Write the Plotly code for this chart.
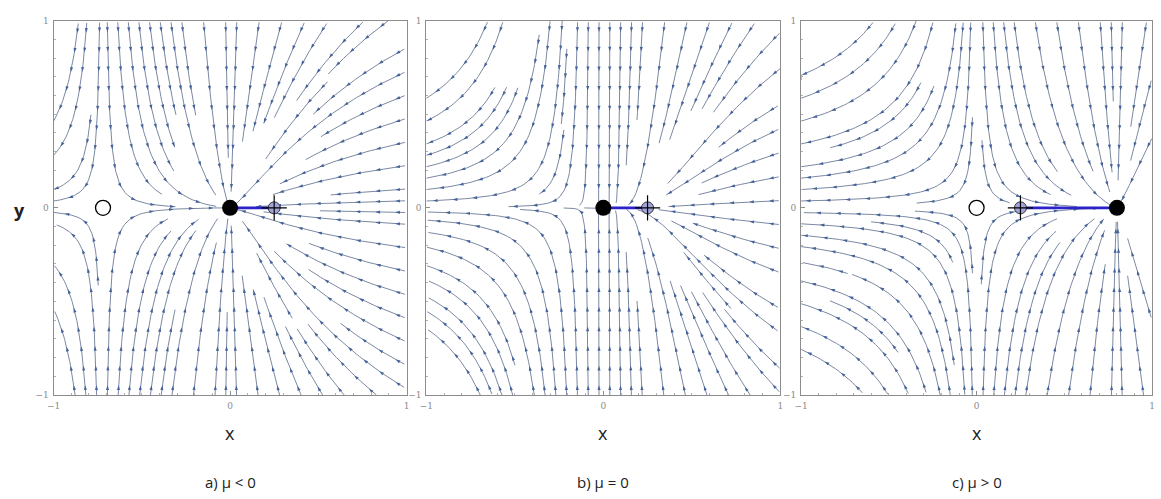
import numpy as np
import plotly.graph_objects as go
import plotly.figure_factory as ff

# Phase portraits of  x' = mu*x - x^2 ,  y' = -y  for three values of mu
mu_values = [-0.72, 0.0, 0.8]
captions = ["a) μ < 0", "b) μ = 0", "c) μ > 0"]
stable_pts = [[0.0], [0.0], [0.8]]        # filled markers
unstable_pts = [[-0.72], [], [0.0]]       # open markers
start_x = [0.25, 0.25, 0.25]              # initial condition on y = 0
tick_vals = [-1, 0, 1]
tick_text = ["−1", "0", "1"]

W, H = 1161, 499
x_domains = [(47, 403), (423, 780), (801, 1155)]
y_top, y_bot = 16, 398

LINE_COL = "#7b89a2"
ARROW_COL = "#45639a"

fig = go.Figure()

grid = np.linspace(-1, 1, 161)
GX, GY = np.meshgrid(grid, grid)


def field(mu, x, y):
    return mu * x - x ** 2, -y


for i, mu in enumerate(mu_values):
    xa = "x" if i == 0 else f"x{i + 1}"
    ya = "y" if i == 0 else f"y{i + 1}"
    U, V = field(mu, GX, GY)
    sf = ff.create_streamline(grid, grid, U, V, density=1.15, arrow_scale=0.001)
    raw_x = [None if (a is None or not np.isfinite(a)) else float(a) for a in sf.data[0].x]
    raw_y = [None if (b is None or not np.isfinite(b)) else float(b) for b in sf.data[0].y]

    # split streamlines into separate paths (also break at any long jump)
    paths = []
    seg_x, seg_y = [], []
    for a, b in zip(raw_x + [None], raw_y + [None]):
        if a is not None and b is not None and seg_x:
            if np.hypot(a - seg_x[-1], b - seg_y[-1]) > 0.06:
                if len(seg_x) > 1:
                    paths.append((np.array(seg_x), np.array(seg_y)))
                seg_x, seg_y = [], []
        if a is None or b is None:
            if len(seg_x) > 1:
                paths.append((np.array(seg_x), np.array(seg_y)))
            seg_x, seg_y = [], []
        else:
            seg_x.append(a)
            seg_y.append(b)

    sx, sy = [], []
    for px, py in paths:
        sx.extend(px.tolist() + [None])
        sy.extend(py.tolist() + [None])
    fig.add_trace(go.Scatter(x=sx, y=sy, mode="lines", xaxis=xa, yaxis=ya,
                             line=dict(color=LINE_COL, width=1),
                             hoverinfo="skip", showlegend=False))

    # arrowheads spaced evenly along every streamline
    px_w = (x_domains[i][1] - x_domains[i][0]) / 2.0
    px_h = (y_bot - y_top) / 2.0
    ax_, ay_ = [], []
    step = 20.0
    for px, py in paths:
        d = np.hypot(np.diff(px) * px_w, np.diff(py) * px_h)
        s = np.concatenate([[0], np.cumsum(d)])
        if not np.isfinite(s[-1]) or s[-1] < step * 0.6:
            continue
        targets = np.arange(step * 0.5, s[-1], step)
        ax_.extend(np.interp(targets, s, px))
        ay_.extend(np.interp(targets, s, py))
    ax_ = np.array(ax_)
    ay_ = np.array(ay_)
    u, v = field(mu, ax_, ay_)
    ang = np.degrees(np.arctan2(u * px_w, v * px_h))
    fig.add_trace(go.Scatter(x=ax_, y=ay_, mode="markers", xaxis=xa, yaxis=ya,
                             marker=dict(symbol="arrow", size=5, angle=ang,
                                         color=ARROW_COL, line=dict(width=0)),
                             hoverinfo="skip", showlegend=False))

    # trajectory from the initial condition to the attracting point
    fig.add_trace(go.Scatter(x=[start_x[i], stable_pts[i][0]], y=[0, 0],
                             mode="lines", xaxis=xa, yaxis=ya,
                             line=dict(color="#2b22c8", width=2.8),
                             hoverinfo="skip", showlegend=False))

    if unstable_pts[i]:
        fig.add_trace(go.Scatter(x=unstable_pts[i], y=[0] * len(unstable_pts[i]),
                                 mode="markers", xaxis=xa, yaxis=ya,
                                 marker=dict(symbol="circle", size=15, color="white",
                                             line=dict(color="black", width=1.3)),
                                 hoverinfo="skip", showlegend=False))
    fig.add_trace(go.Scatter(x=stable_pts[i], y=[0] * len(stable_pts[i]),
                             mode="markers", xaxis=xa, yaxis=ya,
                             marker=dict(symbol="circle", size=16, color="black",
                                         line=dict(width=0)),
                             hoverinfo="skip", showlegend=False))
    # initial condition: shaded disc with a crosshair
    fig.add_trace(go.Scatter(x=[start_x[i]], y=[0], mode="markers",
                             xaxis=xa, yaxis=ya,
                             marker=dict(symbol="circle", size=12, color="#a3a3dc",
                                         line=dict(color="#333", width=1)),
                             hoverinfo="skip", showlegend=False))
    fig.add_trace(go.Scatter(x=[start_x[i]], y=[0], mode="markers",
                             xaxis=xa, yaxis=ya,
                             marker=dict(symbol="cross-thin", size=18,
                                         line=dict(color="black", width=1.2)),
                             hoverinfo="skip", showlegend=False))

    axis_common = dict(range=[-1, 1], showgrid=False, zeroline=False,
                       showline=True, mirror=True, linecolor="#8c8c8c",
                       linewidth=1.2, ticks="inside", ticklen=4,
                       tickcolor="#8c8c8c", tickvals=tick_vals, ticktext=tick_text,
                       tickfont=dict(family="DejaVu Serif", size=9, color="#8a8a8a"),
                       minor=dict(ticks="inside", ticklen=2, dtick=0.1,
                                  tickcolor="#b0b0b0"),
                       fixedrange=True)
    fig.update_layout(**{
        ("xaxis" if i == 0 else f"xaxis{i + 1}"): dict(
            domain=[x_domains[i][0] / W, x_domains[i][1] / W],
            anchor=ya, ticklabelstandoff=2, **axis_common),
        ("yaxis" if i == 0 else f"yaxis{i + 1}"): dict(
            domain=[1 - y_bot / H, 1 - y_top / H],
            anchor=xa, ticklabelstandoff=2, **axis_common),
    })

    cx = (x_domains[i][0] + x_domains[i][1]) / 2.0 / W
    fig.add_annotation(x=cx, y=1 - 437 / H, xref="paper", yref="paper",
                       xanchor="center", yanchor="middle",
                       text="x", showarrow=False,
                       font=dict(family="Open Sans", size=18, color="#222"))
    fig.add_annotation(x=cx, y=1 - 487 / H, xref="paper", yref="paper",
                       xanchor="center", yanchor="middle",
                       text=captions[i], showarrow=False,
                       font=dict(family="Open Sans", size=15, color="#222"))

fig.add_annotation(x=13 / W, y=1 - 209 / H, xref="paper", yref="paper",
                   xanchor="center", yanchor="middle",
                   text="<b>y</b>", showarrow=False,
                   font=dict(family="Open Sans", size=18, color="#222"))

fig.update_layout(width=W, height=H, margin=dict(l=0, r=0, t=0, b=0),
                  paper_bgcolor="white", plot_bgcolor="white")

fig.write_html("out.html")
